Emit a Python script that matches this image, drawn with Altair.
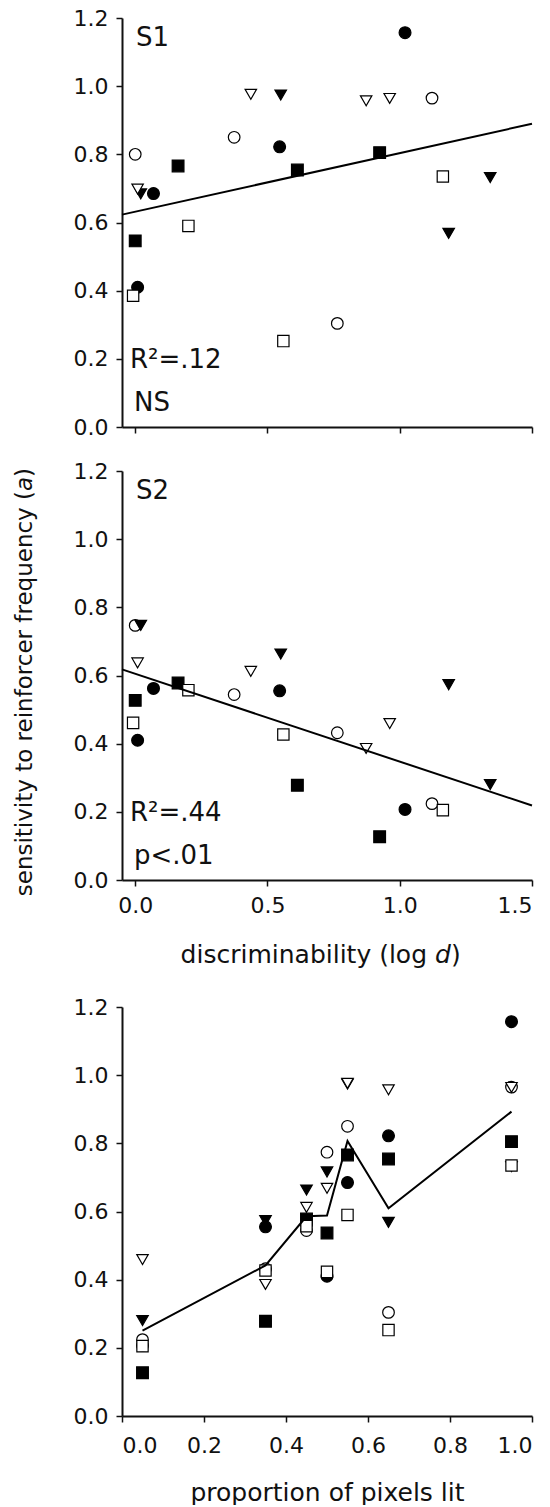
import altair as alt
import pandas as pd

FONT = "DejaVu Sans"
INK = "#111111"

# marker styles, listed in drawing order
symbols = ["filled circle", "filled square", "open circle",
           "filled triangle", "open triangle", "open square"]
symbol_shapes = ["circle", "square", "circle", "triangle-down", "triangle-down", "square"]
symbol_fills = ["black", "black", "white", "black", "white", "white"]
symbol_sizes = [140, 128, 140, 165, 165, 128]

# discriminability (log d) of the four conditions run with each symbol
logd_filled_circle = [0.009, 0.069, 0.546, 1.020]
logd_filled_square = [0.000, 0.162, 0.613, 0.924]
logd_open_circle = [0.000, 0.374, 0.764, 1.122]
logd_filled_triangle = [0.021, 0.550, 1.185, 1.342]
logd_open_triangle = [0.009, 0.437, 0.873, 0.962]
logd_open_square = [-0.008, 0.201, 0.560, 1.163]

# sensitivity to reinforcer frequency (a), stimulus set S1
s1_filled_circle = [0.410, 0.685, 0.822, 1.157]
s1_filled_square = [0.546, 0.766, 0.754, 0.805]
s1_open_circle = [0.800, 0.850, 0.304, 0.965]
s1_filled_triangle = [0.684, 0.974, 0.568, 0.732]
s1_open_triangle = [0.698, 0.976, 0.957, 0.964]
s1_open_square = [0.385, 0.590, 0.252, 0.735]

# sensitivity to reinforcer frequency (a), stimulus set S2
s2_filled_circle = [0.410, 0.562, 0.555, 0.207]
s2_filled_square = [0.527, 0.578, 0.278, 0.127]
s2_open_circle = [0.747, 0.544, 0.432, 0.224]
s2_filled_triangle = [0.747, 0.663, 0.573, 0.280]
s2_open_triangle = [0.637, 0.612, 0.386, 0.459]
s2_open_square = [0.461, 0.557, 0.427, 0.205]

# proportion of pixels lit, and a at each proportion
proportions = [0.05, 0.35, 0.45, 0.50, 0.55, 0.65, 0.95]
prop_filled_circle = [0.207, 0.555, 0.562, 0.410, 0.685, 0.822, 1.157]
prop_filled_square = [0.127, 0.278, 0.578, 0.537, 0.766, 0.754, 0.805]
prop_open_circle = [0.224, 0.432, 0.544, 0.774, 0.850, 0.304, 0.965]
prop_filled_triangle = [0.280, 0.573, 0.663, 0.716, 0.974, 0.568, 0.732]
prop_open_triangle = [0.459, 0.386, 0.612, 0.668, 0.976, 0.957, 0.964]
prop_open_square = [0.205, 0.427, 0.557, 0.423, 0.590, 0.252, 0.735]

y_ticks = [0.0, 0.2, 0.4, 0.6, 0.8, 1.0, 1.2]
logd_ticks = [0.0, 0.5, 1.0, 1.5]
prop_ticks = [0.0, 0.2, 0.4, 0.6, 0.8, 1.0]
logd_extent = [-0.05, 1.5]

W, H = 410, 409


def long_table(x_lists, y_lists, x_name):
    rows = []
    for sym, xs, ys in zip(symbols, x_lists, y_lists):
        for xv, yv in zip(xs, ys):
            rows.append({"symbol": sym, x_name: xv, "a": yv})
    return pd.DataFrame(rows)


logd_lists = [logd_filled_circle, logd_filled_square, logd_open_circle,
              logd_filled_triangle, logd_open_triangle, logd_open_square]
s1_df = long_table(logd_lists, [s1_filled_circle, s1_filled_square, s1_open_circle,
                                s1_filled_triangle, s1_open_triangle, s1_open_square], "logd")
s2_df = long_table(logd_lists, [s2_filled_circle, s2_filled_square, s2_open_circle,
                                s2_filled_triangle, s2_open_triangle, s2_open_square], "logd")
prop_df = long_table([proportions] * 6,
                     [prop_filled_circle, prop_filled_square, prop_open_circle,
                      prop_filled_triangle, prop_open_triangle, prop_open_square], "prop")

shape_enc = alt.Shape("symbol:N", scale=alt.Scale(domain=symbols, range=symbol_shapes), legend=None)
fill_enc = alt.Fill("symbol:N", scale=alt.Scale(domain=symbols, range=symbol_fills), legend=None)
size_enc = alt.Size("symbol:N", scale=alt.Scale(domain=symbols, range=symbol_sizes), legend=None)

y_enc = alt.Y("a:Q", scale=alt.Scale(domain=[0, 1.2], nice=False),
              axis=alt.Axis(values=y_ticks, format=".1f", title=None))


def note(text, x, y, size=26, align="left", baseline="alphabetic", **kw):
    return alt.Chart(pd.DataFrame({"t": [text]})).mark_text(
        font=FONT, fontSize=size, color=INK, align=align, baseline=baseline, **kw
    ).encode(text="t:N", x=alt.value(x), y=alt.value(y))


def logd_panel(df, tag, r2, sig, with_labels):
    x_enc = alt.X("logd:Q", scale=alt.Scale(domain=logd_extent, nice=False, zero=False),
                  axis=alt.Axis(values=logd_ticks, format=".1f", labels=with_labels,
                                title=None, labelPadding=9))
    points = alt.Chart(df).mark_point(filled=True, stroke="black", strokeWidth=1.2, opacity=1).encode(
        x=x_enc, y=y_enc, shape=shape_enc, fill=fill_enc, size=size_enc)
    fit = alt.Chart(df).transform_regression("logd", "a", extent=logd_extent).mark_line(
        color="black", strokeWidth=2).encode(x=x_enc, y=y_enc)
    layers = [points, fit,
              note(tag, 14, 28),
              note(r2, 8, 350),
              note(sig, 12, 393)]
    return alt.layer(*layers).properties(width=W, height=H)


panel1 = logd_panel(s1_df, "S1", "R²=.12", "NS", False)
panel2 = logd_panel(s2_df, "S2", "R²=.44", "p<.01", True)

# x title with italic d
x0 = 305
panel2 = alt.layer(
    panel2,
    note("discriminability (log", x0, 492, size=25, align="right"),
    note("d", x0 + 8, 492, size=25, fontStyle="italic"),
    note(")", x0 + 24, 492, size=25),
)

# shared y title with italic a
y0 = 20
panel2 = alt.layer(
    panel2,
    note("sensitivity to reinforcer frequency (", -97, y0, size=23,
         align="right", baseline="middle", angle=270),
    note("a", -97, y0, size=23, baseline="middle", angle=270, fontStyle="italic"),
    note(")", -97, y0 - 14, size=23, baseline="middle", angle=270),
)

px_enc = alt.X("prop:Q", scale=alt.Scale(domain=[0, 1], nice=False),
               axis=alt.Axis(values=prop_ticks, format=".1f", title="proportion of pixels lit",
                             labelPadding=13, titlePadding=24, titleFontSize=25))
prop_points = alt.Chart(prop_df).mark_point(filled=True, stroke="black", strokeWidth=1.2, opacity=1).encode(
    x=px_enc, y=y_enc, shape=shape_enc, fill=fill_enc, size=size_enc)
prop_mean = alt.Chart(prop_df).transform_aggregate(
    a="mean(a)", groupby=["prop"]).mark_line(color="black", strokeWidth=2).encode(x=px_enc, y=y_enc)
panel3 = alt.layer(prop_points, prop_mean).properties(width=W, height=H)

chart = alt.vconcat(
    alt.vconcat(panel1, panel2, spacing=22),
    panel3, spacing=28,
).properties(
    padding={"left": 14, "top": 7, "right": 5, "bottom": 0}
).configure_view(stroke=None).configure_axis(
    domainColor=INK, domainWidth=2, tickColor=INK, tickWidth=1.5, tickSize=6,
    labelFont=FONT, labelFontSize=22, labelColor=INK, labelPadding=8,
    titleFont=FONT, titleFontSize=23, titleColor=INK, titleFontWeight="normal", grid=False,
)

chart.save("out.html", embed_options={"renderer": "svg", "actions": False})
